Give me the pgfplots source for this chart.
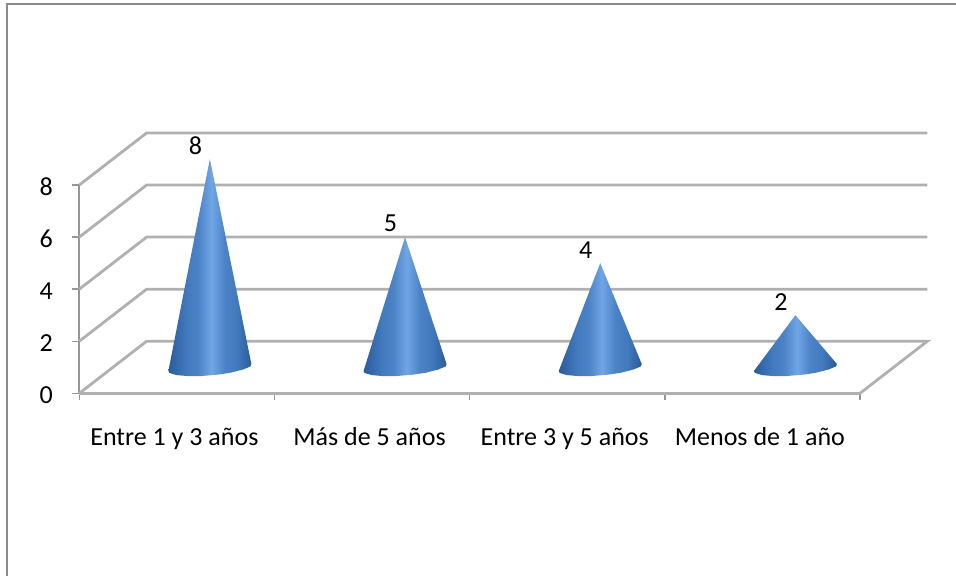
\documentclass[border=0pt]{standalone}
\usepackage{fontspec}
\setmainfont{Carlito}
\usepackage{pgfplots}
\pgfplotsset{compat=1.18}

\definecolor{framegray}{RGB}{140,140,140}
\definecolor{wallgray}{RGB}{176,176,176}
\definecolor{axisgray}{RGB}{150,150,150}
\definecolor{conedark}{RGB}{42,92,154}
\definecolor{conemid}{RGB}{66,122,190}
\definecolor{conelight}{RGB}{112,166,230}

% Horizontal sheen of the cones; the 25bp--75bp band spans the cone's width
\pgfdeclarehorizontalshading{conesheen}{100bp}{%
  color(0bp)=(conedark); color(25bp)=(conedark); color(36bp)=(conemid);
  color(43bp)=(conemid!80!conelight); color(51bp)=(conelight); color(59bp)=(conemid!80!conelight);
  color(66bp)=(conemid); color(75bp)=(conedark); color(100bp)=(conedark)}

\begin{document}
\begin{tikzpicture}[x=1pt,y=1pt]
  \path[use as bounding box] (0,0) rectangle (956,-576);
  % Outer chart-area border: only the top and left edges are visible
  \draw[framegray,line width=2.4pt] (956,-4) -- (7,-4) -- (7,-576);

  \begin{axis}[
    at={(79.3pt,-393.3pt)}, anchor=south west,
    scale only axis, width=780.7pt, height=208.3pt,
    xmin=0, xmax=4, ymin=0, ymax=8,
    clip=false,
    axis lines=left, axis line style={-, line width=2pt, draw=axisgray},
    every tick/.style={axisgray, line width=1.4pt},
    major tick length=7pt,
    tick align=outside,
    xtick={0,1,2,3,4},
    x tick label as interval,
    xticklabels={Entre 1 y 3 años, Más de 5 años, Entre 3 y 5 años, Menos de 1 año},
    ytick={0,2,4,6,8},
    tick label style={font=\fontsize{26}{30}\selectfont, black},
    /pgf/number format/assume math mode=true,
    xticklabel style={yshift=-24pt, xshift=-2.5pt},
    yticklabel style={xshift=-16pt, yshift=-2pt},
    cone/.style={shade, shading=conesheen, draw=none, xshift=33pt, yshift=26.04pt},
    wall/.style={wallgray, line width=2.8pt, no marks},
  ]
    % Floor and back wall lines of the 3D frame
    \addplot[wall] coordinates {(0,0) (0.345,2) (4.345,2) (4,0)};
    \addplot[wall] coordinates {(0,2) (0.345,4) (4.345,4)};
    \addplot[wall] coordinates {(0,4) (0.345,6) (4.345,6)};
    \addplot[wall] coordinates {(0,6) (0.345,8) (4.345,8)};
    \addplot[wall] coordinates {(0,8) (0.345,10) (4.345,10)};
    \addplot[wall] coordinates {(0,0) (4,0)};

    % Cones: apex at the category's value, then the tilted elliptical base
    \addplot[cone] coordinates {(0.5,8) (0.2874,-0.144) (0.2925,-0.22) (0.3299,-0.301) (0.3937,-0.343) (0.4575,-0.336)
      (0.5425,-0.282) (0.6063,-0.209) (0.6701,-0.086) (0.7075,0.03) (0.7126,0.125)};
    \addplot[cone] coordinates {(1.5,5) (1.2874,-0.144) (1.2925,-0.22) (1.3299,-0.301) (1.3937,-0.343) (1.4575,-0.336)
      (1.5425,-0.282) (1.6063,-0.209) (1.6701,-0.086) (1.7075,0.03) (1.7126,0.125)};
    \addplot[cone] coordinates {(2.5,4) (2.2874,-0.144) (2.2925,-0.22) (2.3299,-0.301) (2.3937,-0.343) (2.4575,-0.336)
      (2.5425,-0.282) (2.6063,-0.209) (2.6701,-0.086) (2.7075,0.03) (2.7126,0.125)};
    \addplot[cone] coordinates {(3.5,2) (3.2874,-0.144) (3.2925,-0.22) (3.3299,-0.301) (3.3937,-0.343) (3.4575,-0.336)
      (3.5425,-0.282) (3.6063,-0.209) (3.6701,-0.086) (3.7075,0.03) (3.7126,0.125)};

    % Value labels over the apexes
    \addplot[only marks, mark=none, xshift=18.5pt, yshift=39.5pt,
      nodes near coords, point meta=explicit symbolic,
      every node near coord/.style={anchor=center, black, font=\fontsize{26}{30}\selectfont}]
      coordinates {(0.5,8)[8] (1.5,5)[5] (2.5,4)[4] (3.5,2)[2]};
  \end{axis}
\end{tikzpicture}
\end{document}
